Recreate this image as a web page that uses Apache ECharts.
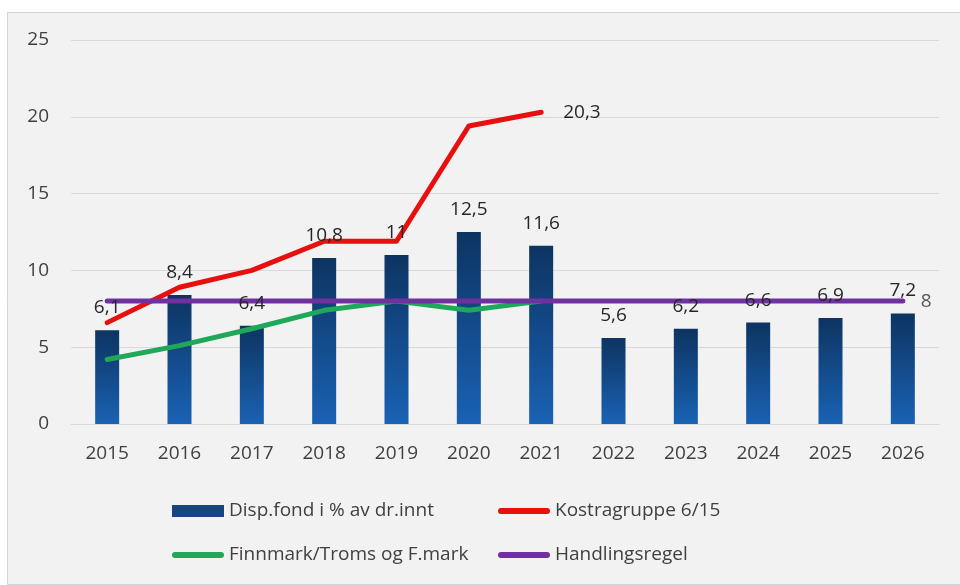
<!DOCTYPE html>
<html>
<head>
<meta charset="utf-8">
<script src="https://cdn.jsdelivr.net/npm/echarts@6/dist/echarts.min.js"></script>
<style>
  html, body { margin: 0; padding: 0; background: #ffffff; }
  #chart { width: 960px; height: 585px; }
</style>
</head>
<body>
<div id="chart"></div>
<script>
// år
const years = ['2015', '2016', '2017', '2018', '2019', '2020', '2021', '2022', '2023', '2024', '2025', '2026']
// disposisjonsfond i % av driftsinntekter
const dispFond = [6.1, 8.4, 6.4, 10.8, 11, 12.5, 11.6, 5.6, 6.2, 6.6, 6.9, 7.2]
const kostra = [6.6, 8.9, 10.0, 11.9, 11.9, 19.4, 20.3, null, null, null, null, null]
const finnmark = [4.2, 5.1, 6.2, 7.4, 8.0, 7.4, 8.0, null, null, null, null, null]
const handlingsregel = [8, 8, 8, 8, 8, 8, 8, 8, 8, 8, 8, 8]
const yTicks = [0, 5, 10, 15, 20, 25]

const fontFam = '"Open Sans", sans-serif'
const fmt = v => String(v).replace('.', ',')
// tykk strek som legend-ikon for linjene
const lineIcon = 'path://M3,0 L49,0 A3,3 0 0 1 49,6 L3,6 A3,3 0 0 1 3,0 Z'

const legendText = { fontFamily: fontFam, fontSize: 19, color: '#404040', lineHeight: 22 }

const chart = echarts.init(document.getElementById('chart'))
chart.setOption({
  backgroundColor: '#ffffff',
  animation: false,
  graphic: [
    {
      type: 'rect',
      shape: { x: 7.5, y: 12.5, width: 960, height: 572 },
      style: { fill: '#f2f2f2', stroke: '#d4d4d4', lineWidth: 1 },
      z: -10
    }
  ],
  grid: {
    left: 71,
    right: 21,
    top: 40,
    bottom: 161
  },
  legend: [
    {
      orient: 'vertical',
      left: 167,
      top: 495,
      itemGap: 22,
      itemWidth: 52,
      itemHeight: 12,
      textStyle: legendText,
      data: [
        { name: 'Disp.fond i % av dr.innt', icon: 'rect', itemStyle: { color: '#15467f' } },
        { name: 'Finnmark/Troms og F.mark', icon: lineIcon }
      ]
    },
    {
      orient: 'vertical',
      left: 493,
      top: 495,
      itemGap: 22,
      itemWidth: 52,
      itemHeight: 12,
      textStyle: legendText,
      data: [
        { name: 'Kostragruppe 6/15', icon: lineIcon },
        { name: 'Handlingsregel', icon: lineIcon }
      ]
    }
  ],
  xAxis: {
    type: 'category',
    data: years,
    axisLine: { show: true, lineStyle: { color: '#d9d9d9' } },
    axisTick: { show: false },
    axisLabel: { fontFamily: fontFam, fontSize: 19, color: '#404040', margin: 20 }
  },
  yAxis: {
    type: 'value',
    min: yTicks[0],
    max: yTicks[yTicks.length - 1],
    interval: 5,
    axisLine: { show: false },
    axisTick: { show: false },
    splitLine: { lineStyle: { color: '#d9d9d9' } },
    axisLabel: { fontFamily: fontFam, fontSize: 19, color: '#404040', margin: 22 }
  },
  series: [
    {
      name: 'Disp.fond i % av dr.innt',
      type: 'bar',
      data: dispFond,
      barWidth: 24,
      z: 1,
      itemStyle: {
        color: new echarts.graphic.LinearGradient(0, 0, 0, 1, [
          { offset: 0, color: '#0d3461' },
          { offset: 1, color: '#1a62b4' }
        ])
      }
    },
    {
      // usynlig kopi som bare bærer verdietikettene, over linjene
      name: 'etiketter',
      type: 'bar',
      data: dispFond,
      barWidth: 24,
      barGap: '-100%',
      z: 10,
      silent: true,
      itemStyle: { color: 'rgba(0,0,0,0)' },
      label: {
        show: true,
        position: 'top',
        distance: 13,
        fontFamily: fontFam,
        fontSize: 19,
        color: '#262626',
        formatter: p => fmt(p.value)
      }
    },
    {
      name: 'Kostragruppe 6/15',
      type: 'line',
      data: kostra,
      symbol: 'none',
      z: 3,
      lineStyle: { color: '#e8100f', width: 5, cap: 'round', join: 'round' },
      itemStyle: { color: '#e8100f' },
      endLabel: {
        show: true,
        distance: 22,
        fontFamily: fontFam,
        fontSize: 19,
        color: '#262626',
        formatter: p => fmt(p.value)
      }
    },
    {
      name: 'Finnmark/Troms og F.mark',
      type: 'line',
      data: finnmark,
      symbol: 'none',
      z: 2,
      lineStyle: { color: '#1fa85a', width: 5, cap: 'round', join: 'round' },
      itemStyle: { color: '#1fa85a' }
    },
    {
      name: 'Handlingsregel',
      type: 'line',
      data: handlingsregel,
      symbol: 'none',
      z: 4,
      lineStyle: { color: '#7030a0', width: 5, cap: 'round' },
      itemStyle: { color: '#7030a0' },
      endLabel: {
        show: true,
        distance: 18,
        fontFamily: fontFam,
        fontSize: 19,
        color: '#595959',
        formatter: p => fmt(p.value)
      }
    }
  ]
})
</script>
</body>
</html>
